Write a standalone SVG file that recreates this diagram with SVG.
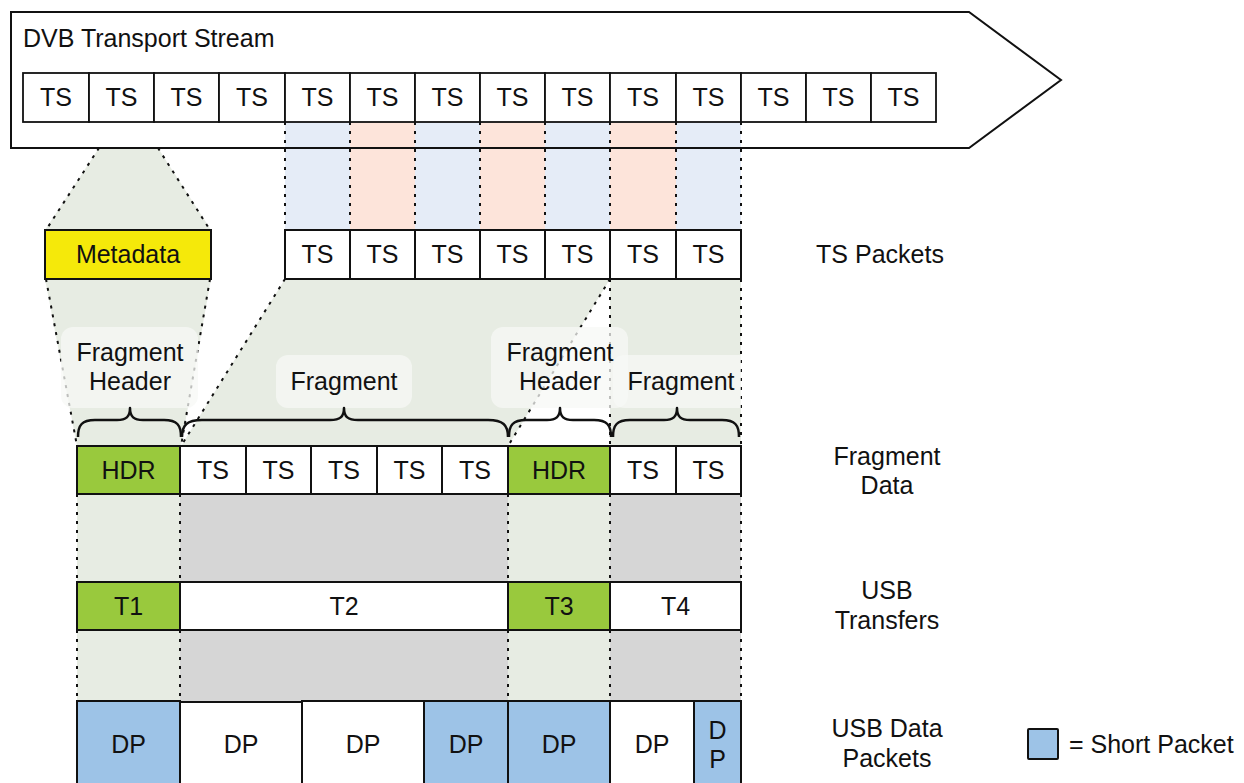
<svg xmlns="http://www.w3.org/2000/svg" width="1244" height="783" viewBox="0 0 1244 783">
<style>
text{font-family:"Liberation Sans",Arial,sans-serif;font-size:25px;fill:#111;text-anchor:middle}
.lt{text-anchor:start}
.box{stroke:#111;stroke-width:2}
.w{fill:#fff}
.g{fill:#99c93d}
.b{fill:#9dc3e7}
.y{fill:#f5e90a}
.dot{stroke:#111;stroke-width:2;stroke-dasharray:3 6;fill:none}
.bg{fill:#e7ece3}
.gray{fill:#d6d6d6}
.sb{fill:#e5ecf7}
.so{fill:#fde4da}
.lbl{fill:#f7f8f5;fill-opacity:0.75}
.brace{fill:none;stroke:#111;stroke-width:2.5;stroke-linejoin:round}
</style>

<!-- background regions -->
<g id="regions">
  <polygon class="bg" points="99,148 158,148 211,230 45,230"/>
  <polygon class="bg" points="45,279 211,279 181,446 77,446"/>
  <polygon class="bg" points="285,279 610,279 508,446 181,446"/>
  <rect class="bg" x="610" y="279" width="131" height="167"/>
  <rect class="bg" x="77" y="494" width="103" height="88"/>
  <rect class="gray" x="180" y="494" width="328" height="88"/>
  <rect class="bg" x="508" y="494" width="102" height="88"/>
  <rect class="gray" x="610" y="494" width="131" height="88"/>
  <rect class="bg" x="77" y="630" width="103" height="71"/>
  <rect class="gray" x="180" y="630" width="328" height="71"/>
  <rect class="bg" x="508" y="630" width="102" height="71"/>
  <rect class="gray" x="610" y="630" width="131" height="71"/>
</g>

<!-- stream -->
<g id="stream">
  <polygon points="11,12 969,12 1061,80 969,148 11,148" fill="#fff"/>
  <rect class="sb" x="285" y="122" width="65" height="108"/>
  <rect class="so" x="350" y="122" width="65" height="108"/>
  <rect class="sb" x="415" y="122" width="65" height="108"/>
  <rect class="so" x="480" y="122" width="65" height="108"/>
  <rect class="sb" x="545" y="122" width="65" height="108"/>
  <rect class="so" x="610" y="122" width="66" height="108"/>
  <rect class="sb" x="676" y="122" width="65" height="108"/>
  <polygon points="11,12 969,12 1061,80 969,148 11,148" fill="none" stroke="#111" stroke-width="2"/>
  <text class="lt" x="23" y="47">DVB Transport Stream</text>
  <g stroke="#111" stroke-width="1.8" fill="#fff">
    <rect x="23" y="73" width="66" height="49"/>
    <rect x="89" y="73" width="65" height="49"/>
    <rect x="154" y="73" width="65" height="49"/>
    <rect x="219" y="73" width="66" height="49"/>
    <rect x="285" y="73" width="65" height="49"/>
    <rect x="350" y="73" width="65" height="49"/>
    <rect x="415" y="73" width="65" height="49"/>
    <rect x="480" y="73" width="65" height="49"/>
    <rect x="545" y="73" width="65" height="49"/>
    <rect x="610" y="73" width="66" height="49"/>
    <rect x="676" y="73" width="65" height="49"/>
    <rect x="741" y="73" width="65" height="49"/>
    <rect x="806" y="73" width="65" height="49"/>
    <rect x="871" y="73" width="65" height="49"/>
  </g>
  <g>
    <text x="56" y="106">TS</text><text x="121.5" y="106">TS</text><text x="186.5" y="106">TS</text><text x="252" y="106">TS</text>
    <text x="317.5" y="106">TS</text><text x="382.5" y="106">TS</text><text x="447.5" y="106">TS</text><text x="512.5" y="106">TS</text>
    <text x="577.5" y="106">TS</text><text x="643" y="106">TS</text><text x="708.5" y="106">TS</text><text x="773.5" y="106">TS</text>
    <text x="838.5" y="106">TS</text><text x="903.5" y="106">TS</text>
  </g>
</g>

<!-- connectors (dotted guide lines) -->
<g id="connectors">
  <line class="dot" x1="99" y1="148" x2="46" y2="230"/>
  <line class="dot" x1="158" y1="148" x2="210" y2="230"/>
  <line class="dot" x1="285" y1="122" x2="285" y2="230"/>
  <line class="dot" x1="350" y1="122" x2="350" y2="230"/>
  <line class="dot" x1="415" y1="122" x2="415" y2="230"/>
  <line class="dot" x1="480" y1="122" x2="480" y2="230"/>
  <line class="dot" x1="545" y1="122" x2="545" y2="230"/>
  <line class="dot" x1="610" y1="122" x2="610" y2="230"/>
  <line class="dot" x1="676" y1="122" x2="676" y2="230"/>
  <line class="dot" x1="741" y1="122" x2="741" y2="230"/>
  <line class="dot" x1="46" y1="279" x2="77" y2="446"/>
  <line class="dot" x1="210" y1="279" x2="181" y2="446"/>
  <line class="dot" x1="285" y1="279" x2="181" y2="446"/>
  <line class="dot" x1="610" y1="279" x2="508" y2="446"/>
  <line class="dot" x1="610" y1="279" x2="610" y2="446"/>
  <line class="dot" x1="741" y1="279" x2="741" y2="446"/>
  <line class="dot" x1="77" y1="494" x2="77" y2="582"/>
  <line class="dot" x1="180" y1="494" x2="180" y2="582"/>
  <line class="dot" x1="508" y1="494" x2="508" y2="582"/>
  <line class="dot" x1="610" y1="494" x2="610" y2="582"/>
  <line class="dot" x1="741" y1="494" x2="741" y2="582"/>
  <line class="dot" x1="77" y1="630" x2="77" y2="701"/>
  <line class="dot" x1="180" y1="630" x2="180" y2="701"/>
  <line class="dot" x1="508" y1="630" x2="508" y2="701"/>
  <line class="dot" x1="610" y1="630" x2="610" y2="701"/>
  <line class="dot" x1="741" y1="630" x2="741" y2="701"/>
</g>

<!-- metadata -->
<g id="metadata">
  <rect class="box y" x="45" y="230" width="166" height="49"/>
  <text x="128" y="263">Metadata</text>
</g>

<!-- TS packets -->
<g id="ts-packets">
  <rect class="box w" x="285" y="230" width="65" height="49"/>
  <rect class="box w" x="350" y="230" width="65" height="49"/>
  <rect class="box w" x="415" y="230" width="65" height="49"/>
  <rect class="box w" x="480" y="230" width="65" height="49"/>
  <rect class="box w" x="545" y="230" width="65" height="49"/>
  <rect class="box w" x="610" y="230" width="66" height="49"/>
  <rect class="box w" x="676" y="230" width="65" height="49"/>
  <text x="317.5" y="263">TS</text><text x="382.5" y="263">TS</text><text x="447.5" y="263">TS</text><text x="512.5" y="263">TS</text>
  <text x="577.5" y="263">TS</text><text x="643" y="263">TS</text><text x="708.5" y="263">TS</text>
  <text x="880" y="263">TS Packets</text>
</g>

<!-- labels with braces -->
<g id="label-header1">
  <rect class="lbl" x="61" y="327" width="137" height="81" rx="12"/>
  <text x="130" y="361">Fragment</text>
  <text x="130" y="390">Header</text>
  <path class="brace" d="M78,437 C78,425 82,420 95,420 L117,420 C126,420 130,417 130,408 C130,417 134,420 143,420 L164,420 C177,420 181,425 181,437"/>
</g>
<g id="label-fragment1">
  <rect class="lbl" x="276" y="355" width="136" height="53" rx="12"/>
  <text x="344" y="390">Fragment</text>
  <path class="brace" d="M182,437 C182,425 187,420 202,420 L330,420 C340,420 344,417 344,408 C344,417 348,420 358,420 L488,420 C503,420 508,425 508,437"/>
</g>
<g id="label-header2">
  <rect class="lbl" x="491" y="327" width="137" height="81" rx="12"/>
  <text x="560" y="361">Fragment</text>
  <text x="560" y="390">Header</text>
  <path class="brace" d="M509,437 C509,425 513,420 526,420 L547,420 C556,420 560,417 560,408 C560,417 564,420 573,420 L594,420 C607,420 611,425 611,437"/>
</g>
<g id="label-fragment2">
  <path class="lbl" d="M625,355 H741 V408 H625 Q613,408 613,396 V367 Q613,355 625,355 Z"/>
  <text x="681" y="390">Fragment</text>
  <path class="brace" d="M613,437 C613,425 617,420 630,420 L664,420 C673,420 677,417 677,408 C677,417 681,420 690,420 L722,420 C735,420 739,425 739,437"/>
</g>

<!-- fragment data -->
<g id="fragment-data">
  <rect class="box g" x="77" y="446" width="103" height="48"/>
  <rect class="box w" x="180" y="446" width="66" height="48"/>
  <rect class="box w" x="246" y="446" width="65" height="48"/>
  <rect class="box w" x="311" y="446" width="66" height="48"/>
  <rect class="box w" x="377" y="446" width="65" height="48"/>
  <rect class="box w" x="442" y="446" width="66" height="48"/>
  <rect class="box g" x="508" y="446" width="102" height="48"/>
  <rect class="box w" x="610" y="446" width="66" height="48"/>
  <rect class="box w" x="676" y="446" width="65" height="48"/>
  <text x="128.5" y="479">HDR</text>
  <text x="213" y="479">TS</text><text x="278.5" y="479">TS</text><text x="344" y="479">TS</text><text x="409.5" y="479">TS</text><text x="475" y="479">TS</text>
  <text x="559" y="479">HDR</text>
  <text x="643" y="479">TS</text><text x="708.5" y="479">TS</text>
  <text x="887" y="465">Fragment</text>
  <text x="887" y="494">Data</text>
</g>

<!-- USB transfers -->
<g id="usb-transfers">
  <rect class="box g" x="77" y="582" width="103" height="48"/>
  <rect class="box w" x="180" y="582" width="328" height="48"/>
  <rect class="box g" x="508" y="582" width="102" height="48"/>
  <rect class="box w" x="610" y="582" width="131" height="48"/>
  <text x="128.5" y="615">T1</text>
  <text x="344" y="615">T2</text>
  <text x="559" y="615">T3</text>
  <text x="675.5" y="615">T4</text>
  <text x="887" y="599">USB</text>
  <text x="887" y="629">Transfers</text>
</g>

<!-- USB data packets -->
<g id="usb-data-packets">
  <rect class="box b" x="77" y="701" width="103" height="90"/>
  <rect class="box w" x="180" y="702" width="122" height="90"/>
  <rect class="box w" x="302" y="701" width="122" height="90"/>
  <rect class="box b" x="424" y="701" width="84" height="90"/>
  <rect class="box b" x="508" y="701" width="102" height="90"/>
  <rect class="box w" x="610" y="701" width="84" height="90"/>
  <rect class="box b" x="694" y="701" width="47" height="90"/>
  <text x="128.5" y="753">DP</text>
  <text x="241" y="753">DP</text>
  <text x="363" y="753">DP</text>
  <text x="466" y="753">DP</text>
  <text x="559" y="753">DP</text>
  <text x="652" y="753">DP</text>
  <text x="717.5" y="739">D</text>
  <text x="717.5" y="768">P</text>
  <text x="887" y="737">USB Data</text>
  <text x="887" y="767">Packets</text>
</g>

<!-- legend -->
<g id="legend">
  <rect class="box b" x="1028" y="729" width="30" height="30" rx="1"/>
  <text class="lt" x="1069" y="753">= Short Packet</text>
</g>
</svg>
